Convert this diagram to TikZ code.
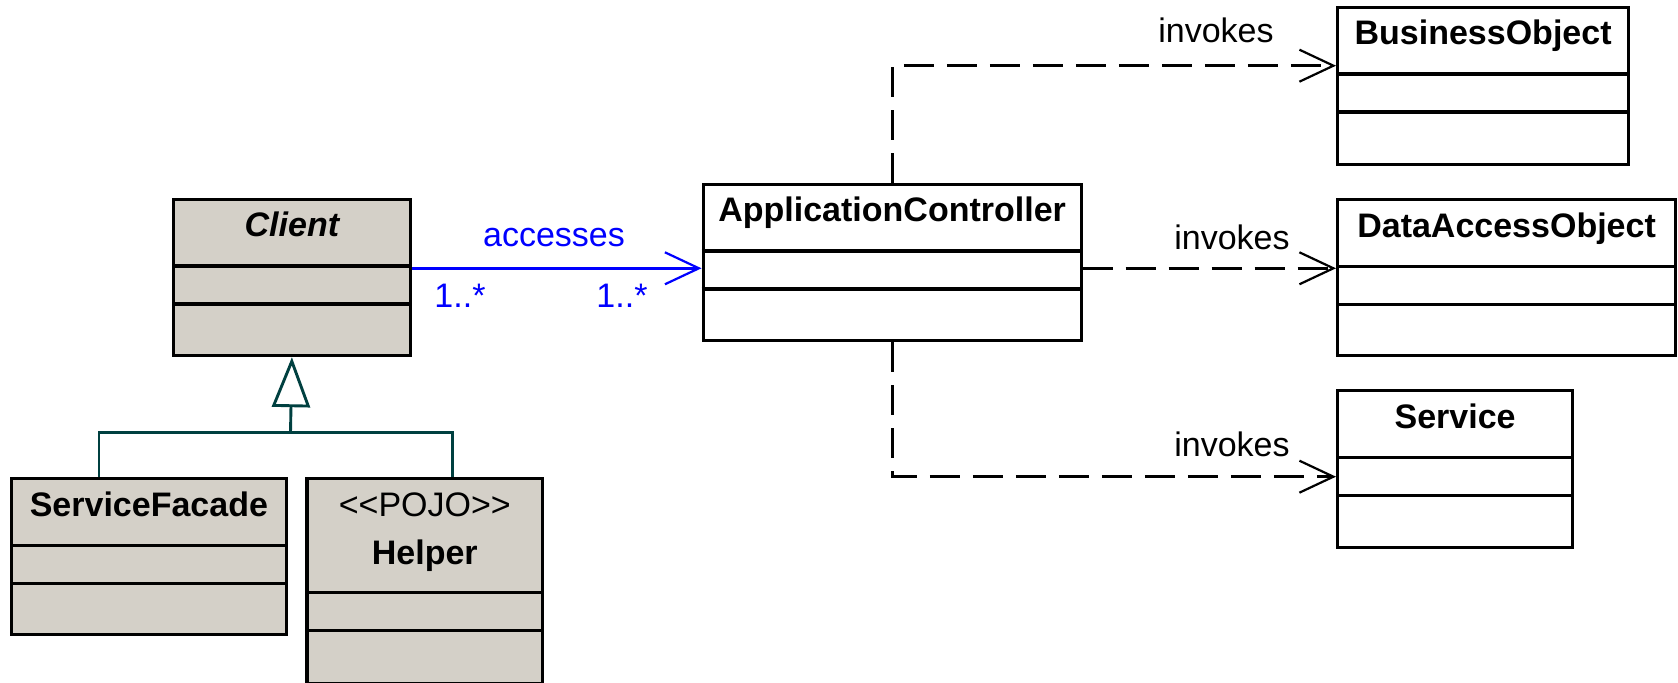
\documentclass[tikz,border=0pt]{standalone}
\usepackage{fontspec}
\setmainfont{Liberation Sans}
\usetikzlibrary{arrows.meta}
\definecolor{facegray}{RGB}{212,208,200}
\definecolor{genteal}{RGB}{0,64,64}
\definecolor{assocblue}{RGB}{0,0,255}
\tikzset{
  classbox/.style={draw=black, line width=1.6pt, inner sep=0pt, anchor=north west, rectangle},
  sepline/.style={draw=black, line width=1.6pt},
  titletext/.style={anchor=base, inner sep=0pt, font=\fontsize{17}{20}\selectfont\bfseries},
  plaintext/.style={anchor=base, inner sep=0pt, font=\fontsize{17}{20}\selectfont},
  bluetext/.style={anchor=base, inner sep=0pt, text=assocblue, font=\fontsize{17}{20}\selectfont},
  genline/.style={draw=genteal, line width=1.45pt},
  assocline/.style={draw=assocblue, line width=1.45pt, -{Straight Barb[length=17pt, width=16pt, line width=1.1pt]}},
  depline/.style={draw=black, line width=1.45pt, dash pattern=on 15pt off 6.5pt, -{Straight Barb[length=17pt, width=16pt, line width=1.1pt]}},
}
\begin{document}
\begin{tikzpicture}[x=0.5pt, y=-0.5pt]
\useasboundingbox (0,0) rectangle (1678,683);

% ---- Client
\node[classbox, fill=facegray, minimum width=118.3pt, minimum height=78pt] (client) at (172,198) {};
\draw[sepline] ([yshift=-34pt]client.north west) -- ([yshift=-34pt]client.north east);
\draw[sepline] ([yshift=-53pt]client.north west) -- ([yshift=-53pt]client.north east);
\node[titletext, font=\fontsize{17}{20}\selectfont\bfseries\itshape] (clientT) at ([yshift=-19.5pt]client.north) {Client};

% ---- ApplicationController
\node[classbox, fill=white, minimum width=189pt, minimum height=78.15pt] (ac) at (701.5,183) {};
\draw[sepline] ([yshift=-34pt]ac.north west) -- ([yshift=-34pt]ac.north east);
\draw[sepline] ([yshift=-53pt]ac.north west) -- ([yshift=-53pt]ac.north east);
\node[titletext] (acT) at ([yshift=-19.5pt]ac.north) {ApplicationController};

% ---- BusinessObject
\node[classbox, fill=white, minimum width=145.5pt, minimum height=78.35pt] (bo) at (1336,6) {};
\draw[sepline] ([yshift=-34pt]bo.north west) -- ([yshift=-34pt]bo.north east);
\draw[sepline] ([yshift=-53pt]bo.north west) -- ([yshift=-53pt]bo.north east);
\node[titletext] (boT) at ([yshift=-19.5pt]bo.north) {BusinessObject};

% ---- DataAccessObject
\node[classbox, fill=white, minimum width=169pt, minimum height=77.85pt] (dao) at (1336,198.3) {};
\draw[sepline] ([yshift=-34pt]dao.north west) -- ([yshift=-34pt]dao.north east);
\draw[sepline] ([yshift=-53pt]dao.north west) -- ([yshift=-53pt]dao.north east);
\node[titletext] (daoT) at ([yshift=-19.5pt]dao.north) {DataAccessObject};

% ---- Service
\node[classbox, fill=white, minimum width=117.5pt, minimum height=78.35pt] (svc) at (1336,389.3) {};
\draw[sepline] ([yshift=-34pt]svc.north west) -- ([yshift=-34pt]svc.north east);
\draw[sepline] ([yshift=-53pt]svc.north west) -- ([yshift=-53pt]svc.north east);
\node[titletext] (svcT) at ([yshift=-19.5pt]svc.north) {Service};

% ---- ServiceFacade
\node[classbox, fill=facegray, minimum width=137.3pt, minimum height=78pt] (sf) at (10,477.3) {};
\draw[sepline] ([yshift=-34pt]sf.north west) -- ([yshift=-34pt]sf.north east);
\draw[sepline] ([yshift=-53pt]sf.north west) -- ([yshift=-53pt]sf.north east);
\node[titletext] (sfT) at ([yshift=-19.5pt]sf.north) {ServiceFacade};

% ---- Helper
\node[classbox, fill=facegray, minimum width=117.8pt, minimum height=102.2pt] (hp) at (305.4,477.3) {};
\draw[sepline] ([yshift=-57.5pt]hp.north west) -- ([yshift=-57.5pt]hp.north east);
\draw[sepline] ([yshift=-76.7pt]hp.north west) -- ([yshift=-76.7pt]hp.north east);
\node[plaintext] (hpS) at ([yshift=-19.7pt]hp.north) {<{}<POJO>{}>};
\node[titletext] (hpT) at ([yshift=-43.5pt]hp.north) {Helper};

% ---- Generalization
\coordinate (gjoin) at (290.5,432.7);
\coordinate (sfx) at (99,0);
\coordinate (hpx) at (452.5,0);
\draw[genline] (sf.north -| sfx) |- (gjoin) -| (hp.north -| hpx);
\draw[genline, -{Triangle[open, length=25pt, width=19pt, line width=1.45pt, fill=white]}] (gjoin) -- (client.south);

% ---- Association
\coordinate (assocy) at (0,268.3);
\draw[assocline] (client.east |- assocy) -- (ac.west |- assocy);
\node[bluetext] (accL) at (554,247) {accesses};
\node[bluetext] (m1) at (460,308) {1..*};
\node[bluetext] (m2) at (622,308) {1..*};

% ---- Dependencies
\coordinate (boy) at (0,65.7);
\coordinate (daoy) at (0,268.3);
\coordinate (svcy) at (0,476.7);
\draw[depline] (ac.north) |- (bo.west |- boy);
\draw[depline] (ac.east |- daoy) -- (dao.west |- daoy);
\draw[depline] (ac.south) |- (svc.west |- svcy);
\node[plaintext] (inv1) at (1216,43) {invokes};
\node[plaintext] (inv2) at (1232,250) {invokes};
\node[plaintext] (inv3) at (1232,456.7) {invokes};
\end{tikzpicture}
\end{document}
